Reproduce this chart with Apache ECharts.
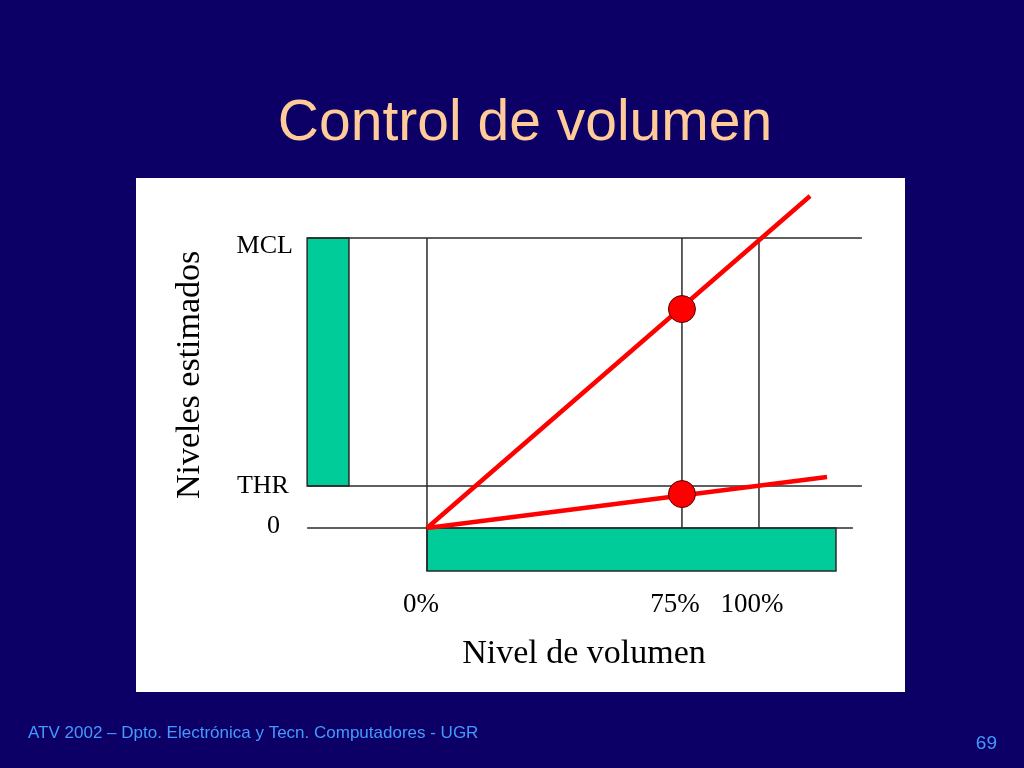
<!DOCTYPE html>
<html>
<head>
<meta charset="utf-8">
<script src="https://cdn.jsdelivr.net/npm/echarts@6/dist/echarts.min.js"></script>
<style>html,body{margin:0;padding:0;background:#0c0066;}#c{width:1024px;height:768px;}</style>
</head>
<body>
<div id="c"></div>
<script>
// ---- data (in chart units: x = volume %, y = estimated level, MCL = 100) ----
const xTickLabels = ['0%', '75%', '100%'];
const xTickLabelX = [-1.8, 74.7, 97.9];
const xTickLabelY = -26.6;
const yTickLabels = ['MCL', 'THR', '0'];
const yTickLabelX = [-40.4, -41.6, -44.3];
const yTickLabelY = [97.2, 14.5, 0.7];
const levelMCL = 100;
const levelTHR = 14.5;
const level0 = 0;
const verticalX = [0, 76.8, 100];
const steepLine = [[0, 0], [115.4, 114.5]];
const shallowLine = [[0, 0], [120.5, 17.6]];
const markedPoints = [[76.8, 75.5], [76.8, 11.7]];
const thrBar = [-36.1, -23.5, 14.5, 100];   // x0, x1, y0, y1
const volBar = [0, 123.2, -14.8, 0];
const xName = 'Nivel de volumen';
const xNamePos = [47.3, -43.4];
const yName = 'Niveles estimados';
const yNamePos = [-71.4, 52.8];

const serif = '"Liberation Serif","Times New Roman",serif';
const black = '#2a2a2a';

function blackLine(data) {
  return { type: 'line', data: data, symbol: 'none', silent: true, clip: false, z: 3,
    lineStyle: { color: black, width: 1.5 }, animation: false };
}

const series = [];
series.push({
  type: 'custom', z: 2, clip: false, animation: false,
  encode: { x: [0, 1], y: [2, 3] },
  data: [thrBar, volBar],
  renderItem: function (params, api) {
    const p0 = api.coord([api.value(0), api.value(3)]);
    const p1 = api.coord([api.value(1), api.value(2)]);
    return { type: 'rect', shape: { x: p0[0], y: p0[1], width: p1[0] - p0[0], height: p1[1] - p0[1] },
      style: { fill: '#00cc99', stroke: black, lineWidth: 1.5 } };
  }
});
series.push(blackLine([[-36.1, levelMCL], [131, levelMCL]]));
series.push(blackLine([[-36.1, levelTHR], [131, levelTHR]]));
series.push(blackLine([[-36.1, level0], [128.3, level0]]));
series.push(blackLine([[verticalX[0], levelMCL], [verticalX[0], volBar[2]]]));
series.push(blackLine([[verticalX[1], levelMCL], [verticalX[1], level0]]));
series.push(blackLine([[verticalX[2], levelMCL], [verticalX[2], level0]]));
[steepLine, shallowLine].forEach(function (d) {
  series.push({ type: 'line', data: d, symbol: 'none', clip: false, z: 4, animation: false,
    lineStyle: { color: '#ff0000', width: 4.5 } });
});
series.push({ type: 'scatter', data: markedPoints, symbolSize: 27, z: 5, animation: false,
  itemStyle: { color: '#ff0000', opacity: 1, borderColor: '#5a0000', borderWidth: 1 } });

// text labels placed through the axes
const labelData = [];
xTickLabels.forEach(function (t, i) {
  labelData.push({ value: [xTickLabelX[i], xTickLabelY], label: { formatter: t, position: 'inside', fontSize: 27, color: '#000' } });
});
yTickLabels.forEach(function (t, i) {
  labelData.push({ value: [yTickLabelX[i], yTickLabelY[i]], label: { formatter: t, position: 'left', distance: 0, fontSize: 26, color: '#000' } });
});
labelData.push({ value: xNamePos, label: { formatter: xName, position: 'inside', fontSize: 34, color: '#000' } });
labelData.push({ value: yNamePos, label: { formatter: yName, position: 'inside', fontSize: 34, rotate: 90, color: '#000' } });
series.push({ type: 'scatter', data: labelData, symbolSize: 0, clip: false, silent: true, z: 6, animation: false,
  itemStyle: { opacity: 1 },
  label: { show: true, color: '#000', fontFamily: serif } });

const chart = echarts.init(document.getElementById('c'));
chart.setOption({
  backgroundColor: '#0c0066',
  animation: false,
  grid: { left: 227.8, top: 180, width: 637.4, height: 522, containLabel: false },
  xAxis: { type: 'value', min: -60, max: 132, show: false },
  yAxis: { type: 'value', min: -60, max: 120, show: false },
  graphic: [
    { type: 'rect', z: -10, silent: true, shape: { x: 136, y: 178, width: 769, height: 514 }, style: { fill: '#ffffff' } },
    { type: 'text', z: 10, silent: true,
      style: { text: 'Control de volumen', x: 525, y: 124, align: 'center', verticalAlign: 'middle',
        fill: '#ffcc99', font: '57px "Liberation Sans", Arial, sans-serif' } },
    { type: 'text', z: 10, silent: true,
      style: { text: 'ATV 2002 – Dpto. Electrónica y Tecn. Computadores - UGR', x: 28, y: 733, align: 'left', verticalAlign: 'middle',
        fill: '#4499ff', font: '17px "Liberation Sans", Arial, sans-serif' } },
    { type: 'text', z: 10, silent: true,
      style: { text: '69', x: 997, y: 744, align: 'right', verticalAlign: 'middle',
        fill: '#4499ff', font: '19px "Liberation Sans", Arial, sans-serif' } }
  ],
  series: series
});
</script>
</body>
</html>
